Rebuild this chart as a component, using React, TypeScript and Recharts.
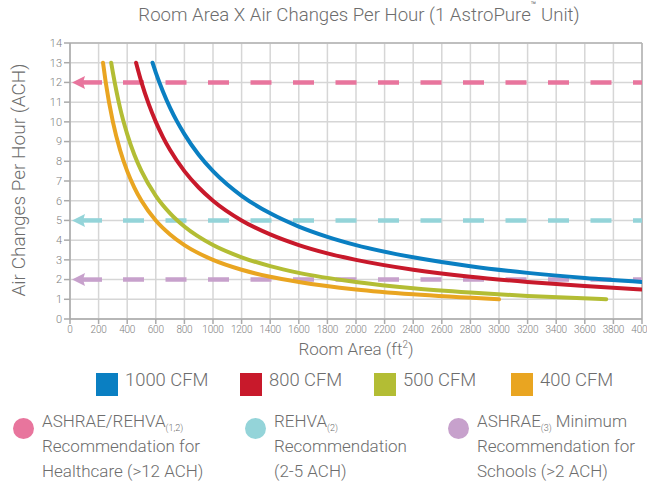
import React from "react";
import { LineChart, Line, XAxis, YAxis, CartesianGrid, ReferenceLine } from "recharts";

const xTicks = [0, 200, 400, 600, 800, 1000, 1200, 1400, 1600, 1800, 2000, 2200, 2400, 2600, 2800, 3000, 3200, 3400, 3600, 3800, 4000];
const yTicks = [0, 1, 2, 3, 4, 5, 6, 7, 8, 9, 10, 11, 12, 13, 14];

const area1000 = [577, 600, 650, 700, 750, 800, 900, 1000, 1100, 1200, 1400, 1600, 1800, 2000, 2400, 2800, 3200, 3600, 4000];
const ach1000 = [13.0, 12.5, 11.54, 10.71, 10.0, 9.38, 8.33, 7.5, 6.82, 6.25, 5.36, 4.69, 4.17, 3.75, 3.13, 2.68, 2.34, 2.08, 1.88];

const area800 = [462, 500, 550, 600, 650, 700, 800, 900, 1000, 1200, 1400, 1600, 1800, 2000, 2400, 2800, 3200, 3600, 4000];
const ach800 = [13.0, 12.0, 10.91, 10.0, 9.23, 8.57, 7.5, 6.67, 6.0, 5.0, 4.29, 3.75, 3.33, 3.0, 2.5, 2.14, 1.88, 1.67, 1.5];

const area500 = [288, 300, 350, 400, 450, 500, 600, 700, 800, 1000, 1200, 1400, 1600, 2000, 2400, 2800, 3200, 3750];
const ach500 = [13.0, 12.5, 10.71, 9.38, 8.33, 7.5, 6.25, 5.36, 4.69, 3.75, 3.13, 2.68, 2.34, 1.88, 1.56, 1.34, 1.17, 1.0];

const area400 = [231, 250, 300, 350, 400, 450, 500, 600, 700, 800, 1000, 1200, 1400, 1600, 2000, 2400, 3000];
const ach400 = [13.0, 12.0, 10.0, 8.57, 7.5, 6.67, 6.0, 5.0, 4.29, 3.75, 3.0, 2.5, 2.14, 1.88, 1.5, 1.25, 1.0];

const seriesNames = ["1000 CFM", "800 CFM", "500 CFM", "400 CFM"];
const seriesColors = ["#0a7fc2", "#c8192b", "#b3bd34", "#e9a521"];

const refLevels = [12, 5, 2];
const refColors = ["#e8759d", "#94d4d9", "#c7a1cc"];

const toPoints = (xs: number[], ys: number[]) => xs.map((a, i) => ({ area: a, ach: ys[i] }));
const seriesData = [
  toPoints(area1000, ach1000),
  toPoints(area800, ach800),
  toPoints(area500, ach500),
  toPoints(area400, ach400),
];

const FONT = "Roboto, 'Liberation Sans', Arial, sans-serif";
const TEXT = "#6d6d6d";

const makeArrowLine = (color: string) => (props: any) => {
  const { x1, y1, x2 } = props;
  const tip = x1 + 2;
  return (
    <g>
      <line x1={x1 + 53} y1={y1} x2={x2} y2={y1} stroke={color} strokeWidth={4.5} strokeDasharray="21 21.5" />
      <line x1={tip + 9} y1={y1} x2={x1 + 32} y2={y1} stroke={color} strokeWidth={4.5} />
      <polygon points={`${tip},${y1} ${tip + 13},${y1 - 6.5} ${tip + 11},${y1} ${tip + 13},${y1 + 6.5}`} fill={color} />
    </g>
  );
};

const legendBottom = [
  { color: refColors[0], l1: "ASHRAE/REHVA", sub: "(1,2)", rest: "", l2: "Recommendation for", l3: "Healthcare (>12 ACH)", x: 13 },
  { color: refColors[1], l1: "REHVA", sub: "(2)", rest: "", l2: "Recommendation", l3: "(2-5 ACH)", x: 245 },
  { color: refColors[2], l1: "ASHRAE", sub: "(3)", rest: " Minimum", l2: "Recommendation for", l3: "Schools (>2 ACH)", x: 448 },
];

const legendTopX = [96, 240, 374, 511];

export default function App() {
  return (
    <div style={{ position: "absolute", left: 0, top: 0, width: 647, height: 483, background: "#fff", fontFamily: FONT, color: TEXT }}>
      <div style={{ position: "absolute", left: 0, width: 718, top: 4, textAlign: "center", fontSize: 18.6, fontWeight: 300, whiteSpace: "nowrap" }}>
        Room Area X Air Changes Per Hour (1 AstroPure
        <sup style={{ fontSize: 9, fontWeight: 400, verticalAlign: "top", position: "relative", top: 1, lineHeight: 0 }}>™</sup> Unit)
      </div>
      <div
        style={{
          position: "absolute",
          left: 18,
          top: 180,
          transform: "translate(-50%, -50%) rotate(-90deg)",
          fontSize: 19,
          fontWeight: 300,
          whiteSpace: "nowrap",
        }}
      >
        Air Changes Per Hour (ACH)
      </div>
      <div style={{ position: "absolute", left: 70, width: 572, top: 339, textAlign: "center", fontSize: 17, fontWeight: 300, whiteSpace: "nowrap" }}>
        Room Area (ft<sup style={{ fontSize: 10, lineHeight: 0 }}>2</sup>)
      </div>
      <div style={{ position: "absolute", left: 0, top: 0 }}>
        <LineChart width={647} height={340} margin={{ top: 43, right: 5, left: 0, bottom: 0 }}>
          <CartesianGrid stroke="#d6d6d6" strokeWidth={1.5} horizontalValues={yTicks} verticalValues={xTicks} />
          <XAxis
            dataKey="area"
            type="number"
            domain={[0, 4000]}
            ticks={xTicks}
            interval={0}
            allowDataOverflow
            height={21}
            stroke="#aaaaaa"
            strokeWidth={1.5}
            tickSize={5}
            tick={{ fontSize: 10, fill: "#808080", fontFamily: FONT, fontWeight: 300, letterSpacing: -0.2 }}
          />
          <YAxis
            type="number"
            domain={[0, 14]}
            ticks={yTicks}
            interval={0}
            width={70}
            stroke="#aaaaaa"
            strokeWidth={1.5}
            tickSize={6}
            tick={{ fontSize: 11, fill: "#808080", fontFamily: FONT, fontWeight: 300 }}
          />
          <ReferenceLine y={14} stroke="#b5b5b5" strokeWidth={1.5} />
          <ReferenceLine x={4000} stroke="#b5b5b5" strokeWidth={1.5} />
          {refLevels.map((lv, i) => (
            <ReferenceLine key={lv} y={lv} shape={makeArrowLine(refColors[i])} />
          ))}
          {seriesData.map((d, i) => (
            <Line
              key={seriesNames[i]}
              data={d}
              dataKey="ach"
              name={seriesNames[i]}
              type="monotone"
              stroke={seriesColors[i]}
              strokeWidth={4}
              strokeLinecap="round"
              dot={false}
              activeDot={false}
              isAnimationActive={false}
            />
          ))}
        </LineChart>
      </div>
      {seriesNames.map((n, i) => (
        <div key={n} style={{ position: "absolute", left: legendTopX[i], top: 373, display: "flex", alignItems: "center" }}>
          <div style={{ width: 22, height: 23, background: seriesColors[i] }} />
          <span style={{ marginLeft: 7, fontSize: 18.4, fontWeight: 300, whiteSpace: "nowrap", position: "relative", top: -5 }}>{n}</span>
        </div>
      ))}
      {legendBottom.map((l) => (
        <div key={l.l1} style={{ position: "absolute", left: l.x, top: 409 }}>
          <div style={{ position: "absolute", left: 0, top: 9, width: 21, height: 21, borderRadius: "50%", background: l.color }} />
          <div style={{ position: "absolute", left: 29, top: 0, fontSize: 17, fontWeight: 300, lineHeight: "25px", whiteSpace: "nowrap" }}>
            <div style={{ height: 25 }}>
              {l.l1}
              <sub style={{ fontSize: 9, lineHeight: 0 }}>{l.sub}</sub>
              {l.rest}
            </div>
            <div style={{ height: 25 }}>{l.l2}</div>
            <div style={{ height: 25 }}>{l.l3}</div>
          </div>
        </div>
      ))}
    </div>
  );
}
